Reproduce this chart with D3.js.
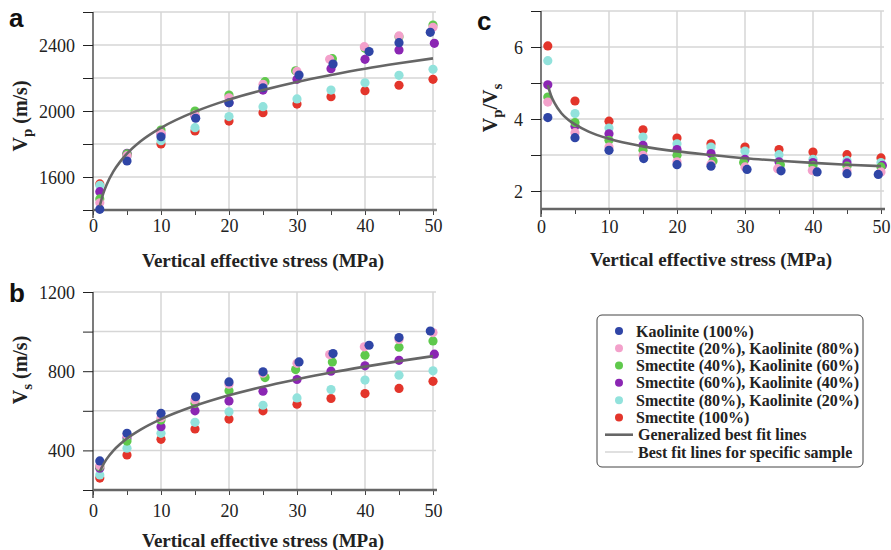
<!DOCTYPE html>
<html>
<head>
<meta charset="utf-8">
<script src="https://cdn.jsdelivr.net/npm/d3@7"></script>
<style>
  body { margin: 0; background: #fff; }
  svg { display: block; }
  .tick-label { font-family: "Liberation Serif", "DejaVu Serif", serif; font-size: 18px; fill: #222; }
  .axis-title { font-family: "Liberation Serif", "DejaVu Serif", serif; font-size: 19px; font-weight: bold; fill: #222; }
  .y-title { font-size: 20px; }
  .panel-label { font-family: "Liberation Sans", Arial, sans-serif; font-size: 26px; font-weight: bold; fill: #111; }
  .legend-text { font-family: "Liberation Serif", "DejaVu Serif", serif; font-size: 16px; font-weight: bold; fill: #222; }
</style>
</head>
<body>
<div id="chart"></div>
<script>
// sample names and colours (legend order)
var sampleNames = ["Kaolinite (100%)", "Smectite (20%), Kaolinite (80%)", "Smectite (40%), Kaolinite (60%)",
                   "Smectite (60%), Kaolinite (40%)", "Smectite (80%), Kaolinite (20%)", "Smectite (100%)"];
var sampleColors = ["#2f45a6", "#f3a1cb", "#5fc94c", "#8b26b3", "#92e2dc", "#e3352b"];

// vertical effective stress (MPa) for each sample, some points sit a little off the step
var kaoStress  = [1, 5, 10, 15.1, 20, 25, 30.3, 35.3, 40.6, 45, 49.6];
var s20Stress  = [1, 5, 10, 15, 20, 25, 30, 34.8, 39.9, 45, 50];
var s40Stress  = [1, 5, 10, 15, 20, 25.3, 29.8, 35.2, 40, 45, 50];
var s60Stress  = [1, 5, 10, 15, 20, 25, 30, 35, 40, 45, 50.2];
var s80Stress  = [1, 5, 10, 15, 20, 25, 30, 35, 40, 45, 50];
var s100Stress = [1, 5, 10, 15, 20, 25, 30, 35, 40, 45, 50];

// Vp (m/s)
var kaoVp  = [1404, 1697, 1844, 1956, 2050, 2141, 2218, 2285, 2360, 2414, 2477];
var s20Vp  = [1444, 1729, 1865, 1976, 2080, 2162, 2240, 2313, 2390, 2455, 2507];
var s40Vp  = [1467, 1740, 1885, 2000, 2097, 2178, 2244, 2317, 2380, 2450, 2521];
var s60Vp  = [1511, 1744, 1860, 1970, 2050, 2127, 2192, 2256, 2313, 2370, 2410];
var s80Vp  = [1550, 1725, 1820, 1899, 1966, 2026, 2073, 2127, 2171, 2216, 2253];
var s100Vp = [1558, 1730, 1800, 1879, 1939, 1990, 2042, 2087, 2123, 2156, 2192];

// Vs (m/s)
var kaoVs  = [347, 486, 587, 671, 746, 797, 847, 889, 931, 970, 1003];
var s20Vs  = [323, 478, 565, 655, 734, 790, 840, 884, 923, 960, 995];
var s40Vs  = [318, 447, 553, 638, 701, 768, 808, 847, 881, 921, 953];
var s60Vs  = [310, 462, 520, 600, 650, 699, 758, 800, 827, 855, 886];
var s80Vs  = [276, 411, 486, 542, 595, 628, 665, 707, 755, 780, 802];
var s100Vs = [260, 377, 456, 508, 558, 600, 633, 662, 687, 713, 749];

// Vp/Vs
var kaoRatio  = [4.04, 3.48, 3.13, 2.90, 2.73, 2.69, 2.60, 2.56, 2.53, 2.48, 2.46];
var s20Ratio  = [4.47, 3.62, 3.22, 2.99, 2.81, 2.74, 2.67, 2.62, 2.57, 2.56, 2.53];
var s40Ratio  = [4.61, 3.90, 3.41, 3.13, 2.99, 2.83, 2.79, 2.73, 2.71, 2.69, 2.67];
var s60Ratio  = [4.95, 3.80, 3.59, 3.27, 3.15, 3.04, 2.88, 2.81, 2.79, 2.78, 2.71];
var s80Ratio  = [5.62, 4.15, 3.75, 3.50, 3.31, 3.22, 3.11, 3.01, 2.88, 2.85, 2.79];
var s100Ratio = [6.03, 4.50, 3.94, 3.70, 3.47, 3.31, 3.22, 3.15, 3.08, 3.01, 2.92];

// generalized best fit lines
var fitStress = [1, 1.5, 2, 3, 4, 5, 7, 10, 15, 20, 25, 30, 35, 40, 45, 50];
var fitVp     = [1425, 1499, 1553, 1634, 1693, 1741, 1816, 1898, 1996, 2069, 2127, 2176, 2218, 2256, 2289, 2319];
var fitVs     = [293, 328, 356, 399, 432, 460, 505, 558, 625, 678, 722, 759, 793, 823, 851, 876];
var fitRatio  = [4.94, 4.64, 4.44, 4.16, 3.98, 3.85, 3.65, 3.45, 3.24, 3.10, 3.00, 2.91, 2.84, 2.78, 2.73, 2.69];

// axis ticks
var xTicks = [0, 5, 10, 15, 20, 25, 30, 35, 40, 45, 50];
var xLabels = [0, 10, 20, 30, 40, 50];
var vpTicks = [1400, 1600, 1800, 2000, 2200, 2400, 2600];
var vpLabels = [1600, 2000, 2400];
var vsTicks = [200, 400, 600, 800, 1000, 1200];
var vsLabels = [400, 800, 1200];
var ratioTicks = [2, 3, 4, 5, 6, 7];
var ratioLabels = [2, 4, 6];

var stressSets = [kaoStress, s20Stress, s40Stress, s60Stress, s80Stress, s100Stress];

var svg = d3.select("#chart")
  .append("svg")
    .attr("width", 891)
    .attr("height", 550);

function drawPanel(p) {
  var x = d3.scaleLinear().domain([0, 50]).range([p.left, p.right]);
  var y = d3.scaleLinear().domain(p.yDomain).range([p.bottom, p.top]);
  var g = svg.append("g");

  // grid
  g.selectAll(".hgrid").data(p.yTicks).join("line")
    .attr("x1", p.left).attr("x2", p.right + 3)
    .attr("y1", d => y(d)).attr("y2", d => y(d))
    .attr("stroke", "#d6d6d6").attr("stroke-width", 1.5);
  g.selectAll(".vgrid").data(xLabels.slice(1)).join("line")
    .attr("x1", d => x(d)).attr("x2", d => x(d))
    .attr("y1", p.top).attr("y2", p.bottom)
    .attr("stroke", "#d6d6d6").attr("stroke-width", 1.5);

  // y axis
  var yAxis = d3.axisLeft(y).tickValues(p.yTicks).tickSize(10)
    .tickFormat(d => p.yLabels.indexOf(d) >= 0 ? d : "");
  var ya = g.append("g")
    .attr("transform", `translate(${p.left},0)`)
    .call(yAxis);
  ya.select(".domain").remove();
  ya.selectAll(".tick line").attr("stroke", "#222");
  ya.selectAll("text").attr("class", "tick-label").attr("x", -18).attr("dy", "0.34em").attr("font-size", null).attr("font-family", null);
  g.append("line")
    .attr("x1", p.left).attr("x2", p.left)
    .attr("y1", p.top).attr("y2", p.bottom + 8)
    .attr("stroke", "#222").attr("stroke-width", 1.2);

  // x axis
  var xAxis = d3.axisBottom(x).tickValues(xTicks).tickSize(5)
    .tickFormat(d => xLabels.indexOf(d) >= 0 ? d : "");
  var xa = g.append("g")
    .attr("transform", `translate(0,${p.bottom})`)
    .call(xAxis);
  xa.select(".domain").remove();
  xa.selectAll(".tick line").attr("stroke", "#444");
  xa.selectAll("text").attr("class", "tick-label").attr("y", p.xLabelY).attr("dy", null).attr("font-size", null).attr("font-family", null);
  g.append("line")
    .attr("x1", p.left).attr("x2", p.right + 4)
    .attr("y1", p.bottom).attr("y2", p.bottom)
    .attr("stroke", "#666").attr("stroke-width", 2.5);

  // points, drawn from smectite back to kaolinite so blue lands on top
  d3.range(5, -1, -1).forEach(function(i) {
    var pts = stressSets[i].map((s, j) => ({s: s, v: p.values[i][j]}));
    g.selectAll(".pt" + i).data(pts).join("circle")
      .attr("cx", d => x(d.s))
      .attr("cy", d => y(d.v))
      .attr("r", 4.6)
      .attr("fill", sampleColors[i]);
  });

  // generalized fit
  var fit = fitStress.map((s, j) => ({s: s, v: p.fit[j]}));
  g.append("path")
    .datum(fit)
    .attr("d", d3.line().x(d => x(d.s)).y(d => y(d.v)).curve(d3.curveMonotoneX))
    .attr("fill", "none")
    .attr("stroke", "#666")
    .attr("stroke-width", 2.6);

  // titles
  g.append("text")
    .attr("class", "axis-title")
    .attr("x", (p.left + p.right) / 2)
    .attr("y", p.bottom + 57)
    .attr("text-anchor", "middle")
    .text("Vertical effective stress (MPa)");

  var yt = g.append("text")
    .attr("class", "axis-title y-title")
    .attr("transform", `translate(${p.yTitleX},${p.yTitleY}) rotate(-90)`)
    .attr("text-anchor", "middle");
  p.yTitle.forEach(function(part) {
    var ts = yt.append("tspan").text(part.t);
    if (part.sub) ts.attr("font-size", "15px").attr("dy", 5);
    else if (part.up) ts.attr("dy", -5);
  });

  g.append("text")
    .attr("class", "panel-label")
    .attr("x", p.labelX)
    .attr("y", p.labelY)
    .text(p.label);
}

drawPanel({
  label: "a", labelX: 9, labelY: 27,
  left: 93, right: 433, top: 12, bottom: 210,
  yDomain: [1400, 2600], yTicks: vpTicks, yLabels: vpLabels,
  values: [kaoVp, s20Vp, s40Vp, s60Vp, s80Vp, s100Vp], fit: fitVp,
  xLabelY: 22,
  yTitle: [{t: "V"}, {t: "p", sub: true}, {t: " (m/s)", up: true}],
  yTitleX: 27, yTitleY: 116
});

drawPanel({
  label: "b", labelX: 9, labelY: 302,
  left: 93, right: 433, top: 292, bottom: 490,
  yDomain: [200, 1200], yTicks: vsTicks, yLabels: vsLabels,
  values: [kaoVs, s20Vs, s40Vs, s60Vs, s80Vs, s100Vs], fit: fitVs,
  xLabelY: 27,
  yTitle: [{t: "V"}, {t: "s", sub: true}, {t: " (m/s)", up: true}],
  yTitleX: 27, yTitleY: 370
});

drawPanel({
  label: "c", labelX: 477, labelY: 30,
  left: 541, right: 881, top: 11, bottom: 209,
  yDomain: [1.5, 7], yTicks: ratioTicks, yLabels: ratioLabels,
  values: [kaoRatio, s20Ratio, s40Ratio, s60Ratio, s80Ratio, s100Ratio], fit: fitRatio,
  xLabelY: 24,
  yTitle: [{t: "V"}, {t: "p", sub: true}, {t: "/V", up: true}, {t: "s", sub: true}],
  yTitleX: 497, yTitleY: 108
});

// legend
var legend = svg.append("g");
legend.append("rect")
  .attr("x", 597).attr("y", 315)
  .attr("width", 266).attr("height", 152)
  .attr("rx", 5)
  .attr("fill", "#fff")
  .attr("stroke", "#444")
  .attr("stroke-width", 1);

var rowY = d3.scaleLinear().domain([0, 7]).range([331, 452]);
legend.selectAll(".ldot").data(sampleNames).join("circle")
  .attr("cx", 619).attr("cy", (d, i) => rowY(i)).attr("r", 4)
  .attr("fill", (d, i) => sampleColors[i]);
legend.selectAll(".ltext").data(sampleNames.concat(["Generalized best fit lines", "Best fit lines for specific sample"])).join("text")
  .attr("class", "legend-text")
  .attr("x", (d, i) => i < 6 ? 636 : 638)
  .attr("y", (d, i) => rowY(i))
  .attr("dy", "0.35em")
  .text(d => d);
legend.append("line")
  .attr("x1", 605).attr("x2", 633).attr("y1", rowY(6)).attr("y2", rowY(6))
  .attr("stroke", "#666").attr("stroke-width", 2.6);
legend.append("line")
  .attr("x1", 605).attr("x2", 633).attr("y1", rowY(7)).attr("y2", rowY(7))
  .attr("stroke", "#ccc").attr("stroke-width", 1.2);
</script>
</body>
</html>
